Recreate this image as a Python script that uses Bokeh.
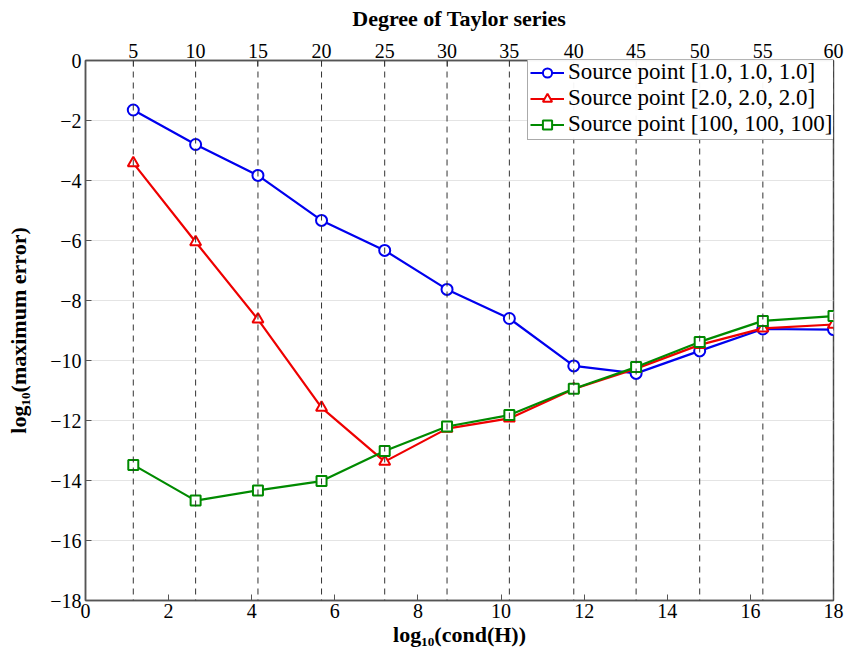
from bokeh.plotting import figure
from bokeh.models import (LinearAxis, FixedTicker, Range1d, Legend, LegendItem, Span)
from bokeh.embed import file_html
from bokeh.resources import INLINE

# data
cond_x = [1.15, 2.65, 4.15, 5.68, 7.2, 8.7, 10.2, 11.75, 13.25, 14.78, 16.3, 18.0]
degrees = [5, 10, 15, 20, 25, 30, 35, 40, 45, 50, 55, 60]
err_p1 = [-1.65, -2.8, -3.83, -5.33, -6.33, -7.63, -8.6, -10.18, -10.43, -9.68, -8.95, -8.97]
err_p2 = [-3.42, -6.05, -8.63, -11.57, -13.37, -12.27, -11.93, -10.95, -10.27, -9.48, -8.93, -8.8]
err_p100 = [-13.48, -14.67, -14.33, -14.02, -13.02, -12.2, -11.82, -10.94, -10.22, -9.38, -8.68, -8.52]
x_ticks = [0, 2, 4, 6, 8, 10, 12, 14, 16, 18]
y_ticks = [0, -2, -4, -6, -8, -10, -12, -14, -16, -18]
labels = ["Source point [1.0, 1.0, 1.0]", "Source point [2.0, 2.0, 2.0]", "Source point [100, 100, 100]"]

FONT = "'Liberation Serif', 'Times New Roman', serif"

p = figure(width=845, height=656, output_backend="svg", toolbar_location=None,
           x_range=Range1d(0, 18), y_range=Range1d(-18, 0),
           min_border_left=85, min_border_right=12, min_border_top=60, min_border_bottom=56)
p.outline_line_color = "#555555"
p.outline_line_width = 1.5
p.background_fill_color = "white"
p.border_fill_color = "white"

# grids
p.xgrid.visible = False
p.ygrid.ticker = FixedTicker(ticks=y_ticks)
p.ygrid.grid_line_color = "#e4e4e4"
p.ygrid.grid_line_width = 1
for xv in cond_x:
    p.add_layout(Span(location=xv, dimension="height", line_color="#333333",
                      line_dash="6 5", line_width=1))

def style_axis(ax):
    ax.major_tick_in = 6
    ax.major_tick_out = 0
    ax.minor_tick_in = 0
    ax.minor_tick_out = 0
    ax.axis_line_color = "#555555"
    ax.axis_line_width = 1.5
    ax.major_tick_line_color = "#555555"
    ax.major_label_text_font = FONT
    ax.major_label_text_font_size = "20px"
    ax.major_label_text_color = "black"
    ax.axis_label_text_font = FONT
    ax.axis_label_text_font_size = "22px"
    ax.axis_label_text_font_style = "bold"
    ax.axis_label_text_color = "black"

# bottom axis
p.xaxis.ticker = FixedTicker(ticks=x_ticks)
p.xaxis.axis_label = "log\u2081\u2080(cond(H))"
style_axis(p.xaxis[0])
p.xaxis.major_label_standoff = 3
p.xaxis.axis_label_standoff = 1

# left axis
p.yaxis.ticker = FixedTicker(ticks=y_ticks)
p.yaxis.major_label_overrides = {t: ("\u2212" + str(-t) if t < 0 else "0") for t in y_ticks}
p.yaxis.axis_label = "log\u2081\u2080(maximum error)"
style_axis(p.yaxis[0])
p.yaxis.major_label_standoff = 4
p.yaxis.axis_label_standoff = 16

# top axis
top = LinearAxis(ticker=FixedTicker(ticks=cond_x),
                 major_label_overrides={x: str(d) for x, d in zip(cond_x, degrees)},
                 axis_label="Degree of Taylor series")
style_axis(top)
top.major_label_standoff = 3
top.axis_label_standoff = 10
p.add_layout(top, "above")

series = [(err_p1, "#0000ee", "circle"), (err_p2, "#ee0000", "triangle"), (err_p100, "#008a00", "square")]
items = []
for (vals, col, mk), lab in zip(series, labels):
    r1 = p.line(cond_x, vals, line_color=col, line_width=2.2)
    r2 = p.scatter(cond_x, vals, marker=mk, size=11 if mk != "square" else 10,
                   line_color=col, line_width=2, fill_color="white")
    items.append(LegendItem(label=lab, renderers=[r1, r2]))

leg = Legend(items=items, location=(442, 460))
leg.label_text_font = FONT
leg.label_text_font_size = "23px"
leg.label_text_color = "black"
leg.glyph_width = 34
leg.label_standoff = 4
leg.label_width = 292
leg.spacing = 0
leg.padding = 2
leg.margin = 0
leg.label_height = 23
leg.glyph_height = 23
leg.border_line_color = "#555555"
leg.border_line_width = 1
p.add_layout(leg)

open("out.html", "w").write(file_html(p, INLINE))
